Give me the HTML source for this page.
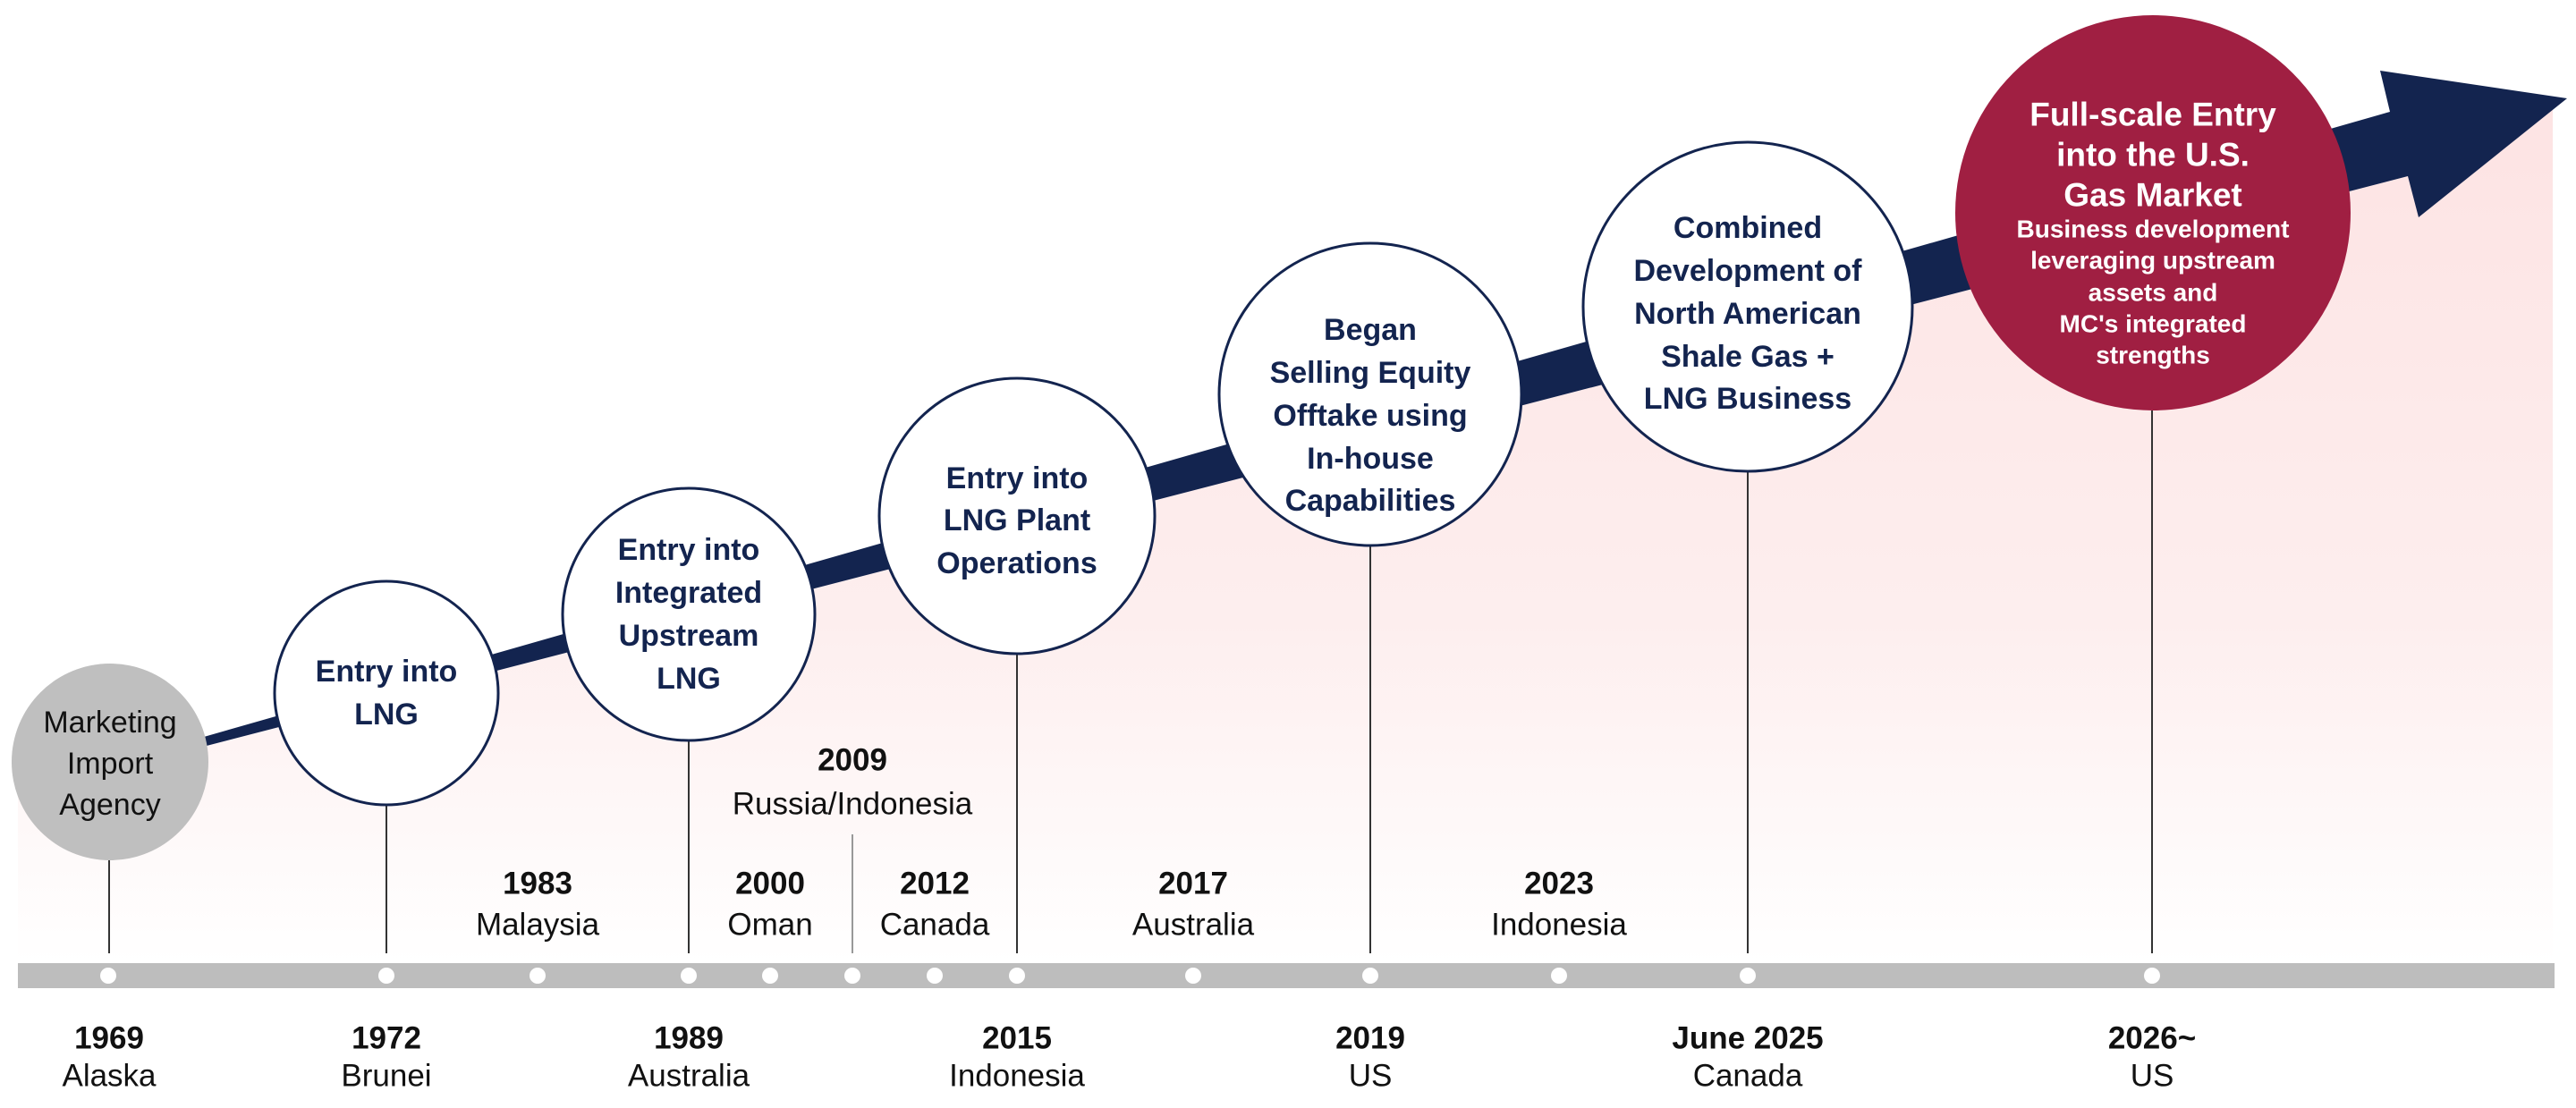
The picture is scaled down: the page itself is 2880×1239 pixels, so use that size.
<!DOCTYPE html>
<html><head><meta charset="utf-8"><style>
html,body{margin:0;padding:0;background:#fff}
svg{display:block}
text{font-family:"Liberation Sans",Arial,sans-serif;text-anchor:middle;dominant-baseline:central}
.n{fill:#13244f;font-weight:bold;font-size:34px}
.g{fill:#111;font-size:34px}
.y{fill:#111;font-weight:bold;font-size:35px}
.p{fill:#111;font-size:35px}
.rt{fill:#fff;font-weight:bold;font-size:37px}
.rs{fill:#fff;font-weight:bold;font-size:28px}
</style></head><body>
<svg width="2880" height="1239" viewBox="0 0 2880 1239" xmlns="http://www.w3.org/2000/svg">
<defs>
<linearGradient id="pk" x1="0" y1="0" x2="0" y2="1">
<stop offset="0" stop-color="#fde3e3"/><stop offset="0.6" stop-color="#fdeeee"/><stop offset="1" stop-color="#ffffff"/>
</linearGradient>
</defs>
<polygon points="20,880 200,842 2692,197 2780,180 2854,110 2854,1077 20,1077" fill="url(#pk)"/>
<polygon points="200,832 2672,125 2661,79 2870,110 2704,243 2692,197 200,842" fill="#13244f"/>
<rect x="20" y="1077" width="2836" height="28" fill="#bdbdbd"/>
<g fill="#fff">
<circle cx="121" cy="1091" r="9"/><circle cx="432" cy="1091" r="9"/><circle cx="601" cy="1091" r="9"/>
<circle cx="770" cy="1091" r="9"/><circle cx="861" cy="1091" r="9"/><circle cx="953" cy="1091" r="9"/>
<circle cx="1045" cy="1091" r="9"/><circle cx="1137" cy="1091" r="9"/><circle cx="1334" cy="1091" r="9"/>
<circle cx="1532" cy="1091" r="9"/><circle cx="1743" cy="1091" r="9"/><circle cx="1954" cy="1091" r="9"/>
<circle cx="2406" cy="1091" r="9"/>
</g>
<g stroke="#333" stroke-width="2">
<line x1="122" y1="962" x2="122" y2="1066"/>
<line x1="432" y1="900" x2="432" y2="1066"/>
<line x1="770" y1="828" x2="770" y2="1066"/>
<line x1="1137" y1="731" x2="1137" y2="1066"/>
<line x1="1532" y1="610" x2="1532" y2="1066"/>
<line x1="1954" y1="527" x2="1954" y2="1066"/>
<line x1="2406" y1="459" x2="2406" y2="1066"/>
</g>
<line x1="953" y1="933" x2="953" y2="1066" stroke="#999" stroke-width="2"/>
<circle cx="123" cy="852" r="110" fill="#bfbfbf"/>
<g fill="#fff" stroke="#13244f" stroke-width="3">
<circle cx="432" cy="775" r="125"/>
<circle cx="770" cy="687" r="141"/>
<circle cx="1137" cy="577" r="154"/>
<circle cx="1532" cy="441" r="169"/>
<circle cx="1954" cy="343" r="184"/>
</g>
<circle cx="2407" cy="238" r="221" fill="#a01f42"/>
<text class="g" x="123" y="808">Marketing</text><text class="g" x="123" y="854">Import</text><text class="g" x="123" y="900">Agency</text>
<text class="n" x="432" y="751">Entry into</text><text class="n" x="432" y="799">LNG</text>
<text class="n" x="770" y="615">Entry into</text><text class="n" x="770" y="663">Integrated</text><text class="n" x="770" y="711">Upstream</text><text class="n" x="770" y="759">LNG</text>
<text class="n" x="1137" y="535">Entry into</text><text class="n" x="1137" y="582">LNG Plant</text><text class="n" x="1137" y="630">Operations</text>
<text class="n" x="1532" y="369">Began</text><text class="n" x="1532" y="417">Selling Equity</text><text class="n" x="1532" y="465">Offtake using</text><text class="n" x="1532" y="513">In-house</text><text class="n" x="1532" y="560">Capabilities</text>
<text class="n" x="1954" y="255">Combined</text><text class="n" x="1954" y="303">Development of</text><text class="n" x="1954" y="351">North American</text><text class="n" x="1954" y="399">Shale Gas +</text><text class="n" x="1954" y="446">LNG Business</text>
<text class="rt" x="2407" y="128">Full-scale Entry</text><text class="rt" x="2407" y="173">into the U.S.</text><text class="rt" x="2407" y="218">Gas Market</text>
<text class="rs" x="2407" y="256">Business development</text><text class="rs" x="2407" y="291">leveraging upstream</text><text class="rs" x="2407" y="327">assets and</text><text class="rs" x="2407" y="362">MC's integrated</text><text class="rs" x="2407" y="397">strengths</text>
<text class="y" x="601" y="988">1983</text><text class="p" x="601" y="1034">Malaysia</text>
<text class="y" x="861" y="988">2000</text><text class="p" x="861" y="1034">Oman</text>
<text class="y" x="1045" y="988">2012</text><text class="p" x="1045" y="1034">Canada</text>
<text class="y" x="1334" y="988">2017</text><text class="p" x="1334" y="1034">Australia</text>
<text class="y" x="1743" y="988">2023</text><text class="p" x="1743" y="1034">Indonesia</text>
<text class="y" x="953" y="850">2009</text><text class="p" x="953" y="899">Russia/Indonesia</text>
<text class="y" x="122" y="1161">1969</text><text class="p" x="122" y="1203">Alaska</text>
<text class="y" x="432" y="1161">1972</text><text class="p" x="432" y="1203">Brunei</text>
<text class="y" x="770" y="1161">1989</text><text class="p" x="770" y="1203">Australia</text>
<text class="y" x="1137" y="1161">2015</text><text class="p" x="1137" y="1203">Indonesia</text>
<text class="y" x="1532" y="1161">2019</text><text class="p" x="1532" y="1203">US</text>
<text class="y" x="1954" y="1161">June 2025</text><text class="p" x="1954" y="1203">Canada</text>
<text class="y" x="2406" y="1161">2026~</text><text class="p" x="2406" y="1203">US</text>
</svg>
</body></html>
